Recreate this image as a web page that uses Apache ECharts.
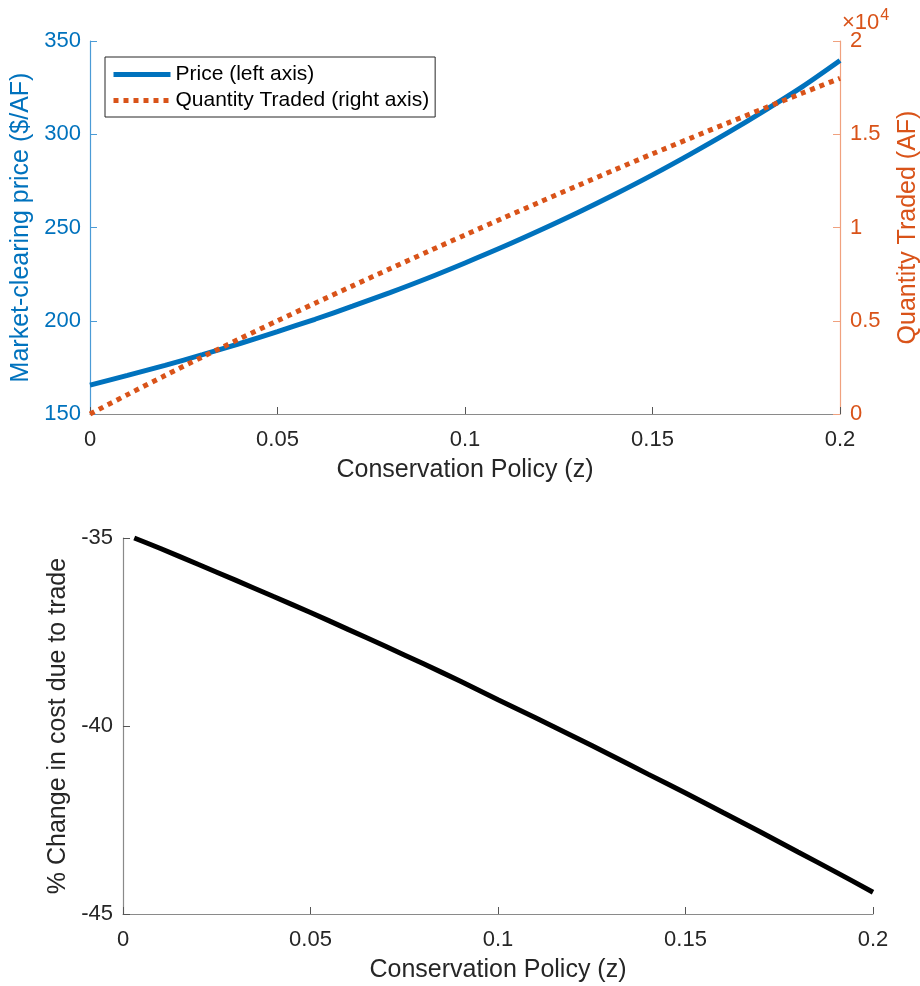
<!DOCTYPE html>
<html>
<head>
<meta charset="utf-8">
<title>Market-clearing price and trade</title>
<script src="https://cdn.jsdelivr.net/npm/echarts@6/dist/echarts.min.js"></script>
<style>
  html, body { margin: 0; padding: 0; background: #fff; }
  #chart { width: 920px; height: 986px; }
</style>
</head>
<body>
<div id="chart"></div>
<script>
// top panel: conservation policy z vs price / quantity traded
const zTop = [0, 0.01, 0.02, 0.03, 0.04, 0.05, 0.06, 0.07, 0.08, 0.09, 0.1,
  0.11, 0.12, 0.13, 0.14, 0.15, 0.16, 0.17, 0.18, 0.19, 0.2];
const price = [165.5, 170.7, 176.1, 181.8, 187.8, 194.2, 200.8, 207.8, 215.1, 222.8, 231.0,
  239.5, 248.5, 257.9, 267.8, 278.2, 289.2, 300.7, 312.8, 325.5, 339.5];
const quantity = [0, 1040, 2060, 3060, 4040, 5000, 5940, 6870, 7790, 8700, 9600,
  10490, 11370, 12240, 13100, 13950, 14780, 15600, 16410, 17210, 18000];

// bottom panel: % change in cost due to trade
const zBottom = [0.003, 0.01, 0.02, 0.03, 0.04, 0.05, 0.06, 0.07, 0.08, 0.09, 0.1,
  0.11, 0.12, 0.13, 0.14, 0.15, 0.16, 0.17, 0.18, 0.19, 0.2];
const costChange = [-35.0, -35.28, -35.7, -36.12, -36.55, -36.98, -37.43, -37.88, -38.34, -38.81, -39.3,
  -39.78, -40.27, -40.77, -41.28, -41.78, -42.3, -42.82, -43.35, -43.88, -44.42];

const BLUE = "#0072BD";
const ORANGE = "#D95319";
const TEXT = "#262626";
const FONT = "'Liberation Sans', Arial, Helvetica, sans-serif";

function pairs(xs, ys) {
  return xs.map((x, i) => [x, ys[i]]);
}

function xAxisFor(gridIndex) {
  return {
    type: "value",
    gridIndex: gridIndex,
    min: 0,
    max: 0.2,
    interval: 0.05,
    name: "Conservation Policy (z)",
    nameLocation: "middle",
    nameGap: 44,
    nameTextStyle: { color: TEXT, fontSize: 25, fontFamily: FONT },
    axisLine: { lineStyle: { color: "#8a8a8a", width: 1.2 } },
    axisTick: { inside: true, length: 7, lineStyle: { color: "#555" } },
    axisLabel: { color: TEXT, fontSize: 22, fontFamily: FONT, margin: 15 },
    splitLine: { show: false }
  };
}

let myChart = echarts.init(document.getElementById("chart"));
myChart.setOption({
  animation: false,
  backgroundColor: "#fff",
  grid: [
    { left: 90, right: 80, top: 41, bottom: 572, outerBoundsMode: "none" },
    { left: 123, right: 47, top: 538, bottom: 72, outerBoundsMode: "none" }
  ],
  legend: {
    orient: "vertical",
    left: 105,
    top: 57,
    padding: [7, 6, 6, 6],
    itemGap: 5,
    itemWidth: 57,
    itemHeight: 14,
    borderColor: TEXT,
    borderWidth: 1,
    itemStyle: { opacity: 0 },
    lineStyle: { width: 5 },
    textStyle: { color: "#000", fontSize: 21, fontFamily: FONT, lineHeight: 21 },
    data: ["Price (left axis)", "Quantity Traded (right axis)"]
  },
  graphic: [
    {
      type: "text",
      left: 842,
      top: 8,
      style: {
        text: "{a|×10}{b|4}",
        rich: {
          a: { fill: ORANGE, fontSize: 22, fontFamily: FONT, verticalAlign: "bottom" },
          b: { fill: ORANGE, fontSize: 16, fontFamily: FONT, verticalAlign: "top", padding: [0, 0, 10, 1] }
        }
      }
    }
  ],
  xAxis: [xAxisFor(0), xAxisFor(1)],
  yAxis: [
    {
      type: "value",
      gridIndex: 0,
      position: "left",
      min: 150,
      max: 350,
      interval: 50,
      name: "Market-clearing price ($/AF)",
      nameLocation: "middle",
      nameRotate: 90,
      nameGap: 55,
      nameTextStyle: { color: BLUE, fontSize: 25, fontFamily: FONT },
      axisLine: { show: true, lineStyle: { color: "#4b9bd6", width: 1.2 } },
      axisTick: { show: true, inside: true, length: 7, lineStyle: { color: "#4b9bd6" } },
      axisLabel: { color: BLUE, fontSize: 22, fontFamily: FONT, margin: 9 },
      splitLine: { show: false }
    },
    {
      type: "value",
      gridIndex: 0,
      position: "right",
      min: 0,
      max: 20000,
      interval: 5000,
      name: "Quantity Traded (AF)",
      nameLocation: "middle",
      nameRotate: 90,
      nameGap: 56,
      nameTextStyle: { color: ORANGE, fontSize: 25, fontFamily: FONT },
      axisLine: { show: true, lineStyle: { color: "#f0a17e", width: 1.2 } },
      axisTick: { show: true, inside: true, length: 7, lineStyle: { color: "#f0a17e" } },
      axisLabel: {
        color: ORANGE, fontSize: 22, fontFamily: FONT, margin: 10,
        formatter: (v) => String(v / 10000)
      },
      splitLine: { show: false }
    },
    {
      type: "value",
      gridIndex: 1,
      min: -45,
      max: -35,
      interval: 5,
      name: "% Change in cost due to trade",
      nameLocation: "middle",
      nameRotate: 90,
      nameGap: 52,
      nameTextStyle: { color: TEXT, fontSize: 25, fontFamily: FONT },
      axisLine: { show: true, lineStyle: { color: "#8a8a8a", width: 1.2 } },
      axisTick: { show: true, inside: true, length: 7, lineStyle: { color: "#555" } },
      axisLabel: { color: TEXT, fontSize: 22, fontFamily: FONT, margin: 10 },
      splitLine: { show: false }
    }
  ],
  series: [
    {
      name: "Price (left axis)",
      type: "line",
      xAxisIndex: 0,
      yAxisIndex: 0,
      data: pairs(zTop, price),
      symbol: "none",
      smooth: 0.3,
      clip: false,
      lineStyle: { color: BLUE, width: 5 },
      itemStyle: { color: BLUE },
      z: 3
    },
    {
      name: "Quantity Traded (right axis)",
      type: "line",
      xAxisIndex: 0,
      yAxisIndex: 1,
      data: pairs(zTop, quantity),
      symbol: "none",
      smooth: 0.3,
      clip: false,
      lineStyle: { color: ORANGE, width: 5, type: [5, 5], cap: "butt" },
      itemStyle: { color: ORANGE },
      z: 4
    },
    {
      name: "cost",
      type: "line",
      xAxisIndex: 1,
      yAxisIndex: 2,
      data: pairs(zBottom, costChange),
      symbol: "none",
      smooth: 0.3,
      clip: false,
      lineStyle: { color: "#000", width: 5 },
      itemStyle: { color: "#000" }
    }
  ]
});
</script>
</body>
</html>
